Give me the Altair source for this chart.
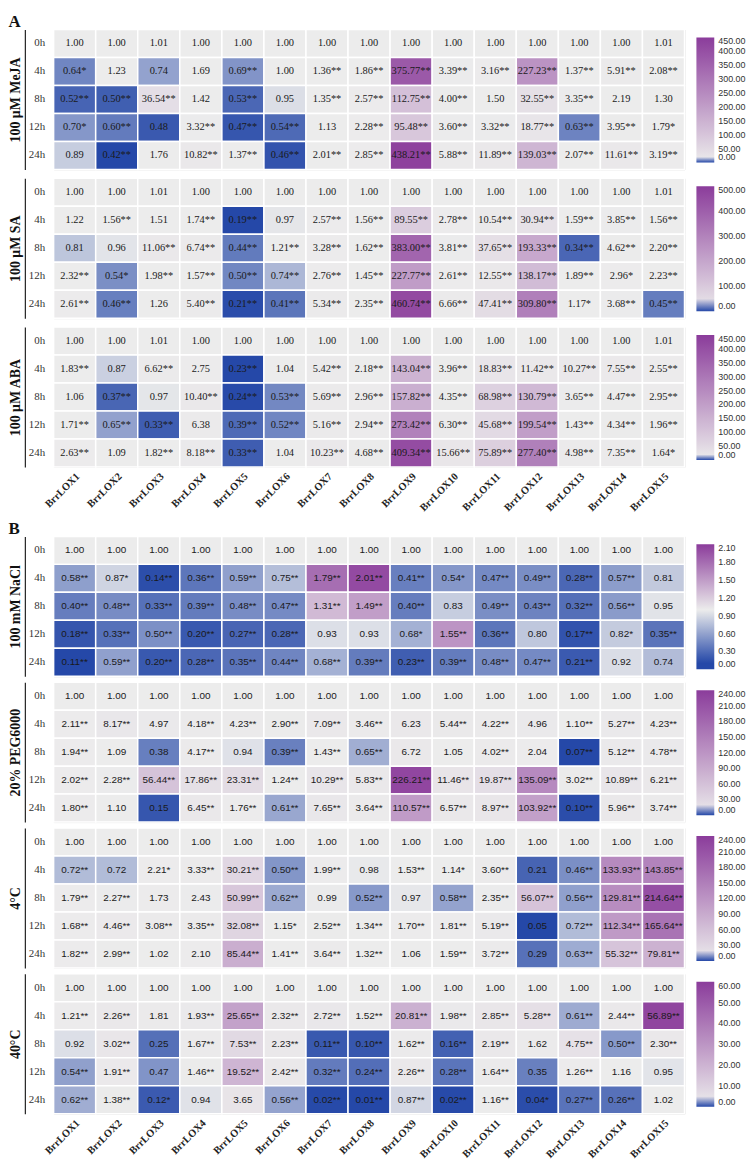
import altair as alt
import pandas as pd

genes = [f"BrrLOX{i}" for i in range(1, 16)]
times = ["0h", "4h", "8h", "12h", "24h"]

meja = [
    "1.00 1.00 1.01 1.00 1.00 1.00 1.00 1.00 1.00 1.00 1.00 1.00 1.00 1.00 1.01",
    "0.64* 1.23 0.74 1.69 0.69** 1.00 1.36** 1.86** 375.77** 3.39** 3.16** 227.23** 1.37** 5.91** 2.08**",
    "0.52** 0.50** 36.54** 1.42 0.53** 0.95 1.35** 2.57** 112.75** 4.00** 1.50 32.55** 3.35** 2.19 1.30",
    "0.70* 0.60** 0.48 3.32** 0.47** 0.54** 1.13 2.28** 95.48** 3.60** 3.32** 18.77** 0.63** 3.95** 1.79*",
    "0.89 0.42** 1.76 10.82** 1.37** 0.46** 2.01** 2.85** 438.21** 5.88** 11.89** 139.03** 2.07** 11.61** 3.19**",
]
sa = [
    "1.00 1.00 1.01 1.00 1.00 1.00 1.00 1.00 1.00 1.00 1.00 1.00 1.00 1.00 1.01",
    "1.22 1.56** 1.51 1.74** 0.19** 0.97 2.57** 1.56** 89.55** 2.78** 10.54** 30.94** 1.59** 3.85** 1.56**",
    "0.81 0.96 11.06** 6.74** 0.44** 1.21** 3.28** 1.62** 383.00** 3.81** 37.65** 193.33** 0.34** 4.62** 2.20**",
    "2.32** 0.54* 1.98** 1.57** 0.50** 0.74** 2.76** 1.45** 227.77** 2.61** 12.55** 138.17** 1.89** 2.96* 2.23**",
    "2.61** 0.46** 1.26 5.40** 0.21** 0.41** 5.34** 2.35** 460.74** 6.66** 47.41** 309.80** 1.17* 3.68** 0.45**",
]
aba = [
    "1.00 1.00 1.01 1.00 1.00 1.00 1.00 1.00 1.00 1.00 1.00 1.00 1.00 1.00 1.01",
    "1.83** 0.87 6.62** 2.75 0.23** 1.04 5.42** 2.18** 143.04** 3.96** 18.83** 11.42** 10.27** 7.55** 2.55**",
    "1.06 0.37** 0.97 10.40** 0.24** 0.53** 5.69** 2.96** 157.82** 4.35** 68.98** 130.79** 3.65** 4.47** 2.95**",
    "1.71** 0.65** 0.33** 6.38 0.39** 0.52** 5.16** 2.94** 273.42** 6.30** 45.68** 199.54** 1.43** 4.34** 1.96**",
    "2.63** 1.09 1.82** 8.18** 0.33** 1.04 10.23** 4.68** 409.34** 15.66** 75.89** 277.40** 4.98** 7.35** 1.64*",
]
nacl = [
    "1.00 1.00 1.00 1.00 1.00 1.00 1.00 1.00 1.00 1.00 1.00 1.00 1.00 1.00 1.00",
    "0.58** 0.87* 0.14** 0.36** 0.59** 0.75** 1.79** 2.01** 0.41** 0.54* 0.47** 0.49** 0.28** 0.57** 0.81",
    "0.40** 0.48** 0.33** 0.39** 0.48** 0.47** 1.31** 1.49** 0.40** 0.83 0.49** 0.43** 0.32** 0.56** 0.95",
    "0.18** 0.33** 0.50** 0.20** 0.27** 0.28** 0.93 0.93 0.68* 1.55** 0.36** 0.80 0.17** 0.82* 0.35**",
    "0.11** 0.59** 0.20** 0.28** 0.35** 0.44** 0.68** 0.39** 0.23** 0.39** 0.48** 0.47** 0.21** 0.92 0.74",
]
peg = [
    "1.00 1.00 1.00 1.00 1.00 1.00 1.00 1.00 1.00 1.00 1.00 1.00 1.00 1.00 1.00",
    "2.11** 8.17** 4.97 4.18** 4.23** 2.90** 7.09** 3.46** 6.23 5.44** 4.22** 4.96 1.10** 5.27** 4.23**",
    "1.94** 1.09 0.38 4.17** 0.94 0.39** 1.43** 0.65** 6.72 1.05 4.02** 2.04 0.07** 5.12** 4.78**",
    "2.02** 2.28** 56.44** 17.86** 23.31** 1.24** 10.29** 5.83** 226.21** 11.46** 19.87** 135.09** 3.02** 10.89** 6.21**",
    "1.80** 1.10 0.15 6.45** 1.76** 0.61** 7.65** 3.64** 110.57** 6.57** 8.97** 103.92** 0.10** 5.96** 3.74**",
]
cold = [
    "1.00 1.00 1.00 1.00 1.00 1.00 1.00 1.00 1.00 1.00 1.00 1.00 1.00 1.00 1.00",
    "0.72** 0.72 2.21* 3.33** 30.21** 0.50** 1.99** 0.98 1.53** 1.14* 3.60** 0.21 0.46** 133.93** 143.85**",
    "1.79** 2.27** 1.73 2.43 50.99** 0.62** 0.99 0.52** 0.97 0.58** 2.35** 56.07** 0.56** 129.81** 214.64**",
    "1.68** 4.46** 3.08** 3.35** 32.08** 1.15* 2.52** 1.34** 1.70** 1.81** 5.19** 0.05 0.72** 112.34** 165.64**",
    "1.82** 2.99** 1.02 2.10 85.44** 1.41** 3.64** 1.32** 1.06 1.59** 3.72** 0.29 0.63** 55.32** 79.81**",
]
heat = [
    "1.00 1.00 1.00 1.00 1.00 1.00 1.00 1.00 1.00 1.00 1.00 1.00 1.00 1.00 1.00",
    "1.21** 2.26** 1.81 1.93** 25.65** 2.32** 2.72** 1.52** 20.81** 1.98** 2.85** 5.28** 0.61** 2.44** 56.89**",
    "0.92 3.02** 0.25 1.67** 7.53** 2.23** 0.11** 0.10** 1.62** 0.16** 2.19** 1.62 4.75** 0.50** 2.30**",
    "0.54** 1.91** 0.47 1.46** 19.52** 2.42** 0.32** 0.24** 2.26** 0.28** 1.64** 0.35 1.26** 1.16 0.95",
    "0.62** 1.38** 0.12* 0.94 3.65 0.56** 0.02** 0.01** 0.87** 0.02** 1.16** 0.04* 0.27** 0.26** 1.02",
]

ticks_meja = [0, 50, 100, 150, 200, 250, 300, 350, 400, 450]
ticks_sa = [0, 100, 200, 300, 400, 500]
ticks_aba = [0, 50, 100, 150, 200, 250, 300, 350, 400, 450]
ticks_nacl = [0, 0.3, 0.6, 0.9, 1.2, 1.5, 1.8, 2.1]
ticks_peg = [0, 30, 60, 90, 120, 150, 180, 210, 240]
ticks_cold = [0, 30, 60, 90, 120, 150, 180, 210, 240]
ticks_heat = [0, 10, 20, 30, 40, 50, 60]

BLUE = "#2548a8"
GREY = "#ececec"
PURPLE = "#8b3c9b"
SERIF = "Liberation Serif"
SANS = "Liberation Sans"

W, H = 636, 141


def panel(title, rows, ticks, cell_font, cell_size, show_x):
    recs = []
    for t, row in zip(times, rows):
        for g, s in zip(genes, row.split()):
            recs.append({"gene": g, "time": t, "value": float(s.rstrip("*")), "label": s})
    df = pd.DataFrame(recs)
    vmin = float(df["value"].min())
    vmax = ticks[-1]
    scale = alt.Scale(domain=[0, vmin, 1, vmax], range=[BLUE, BLUE, GREY, PURPLE],
                      interpolate="rgb", clamp=True)
    if show_x:
        xaxis = alt.Axis(title=None, labelAngle=-45, labelFont=SERIF, labelFontWeight="bold",
                         labelFontSize=10.5, labelColor="#222", ticks=False, tickSize=0,
                         domain=False, labelPadding=4)
    else:
        xaxis = None
    x = alt.X("gene:N", sort=genes, axis=xaxis, scale=alt.Scale(paddingInner=0, paddingOuter=0))
    y = alt.Y("time:N", sort=times, scale=alt.Scale(paddingInner=0, paddingOuter=0),
              axis=alt.Axis(title=title, titleFont=SERIF, titleFontSize=14, titleFontWeight="bold",
                            titleColor="#111", titlePadding=2, labelFont=SERIF, labelFontSize=11,
                            labelColor="#333", labelAlign="right", labelPadding=-20,
                            ticks=False, tickSize=0, domain=True, domainColor="#222",
                            domainWidth=1.2, offset=29))
    base = alt.Chart(df).encode(x=x, y=y)
    rect = base.mark_rect(stroke="white", strokeWidth=1.5).encode(
        color=alt.Color("value:Q", scale=scale,
                        legend=alt.Legend(title=None, orient="none", legendX=W + 12, legendY=8,
                                          direction="vertical", gradientLength=126,
                                          gradientThickness=18, values=ticks, format=".2f",
                                          labelFont=SANS, labelFontSize=9, labelColor="#333",
                                          labelOffset=4, labelBaseline="middle", padding=0,
                                          gradientStrokeWidth=0)))
    text = base.mark_text(font=cell_font, fontSize=cell_size, color="#1a1a1a").encode(text="label:N")
    return (rect + text).properties(width=W, height=H)


title_style = dict(anchor="start", font=SERIF, fontSize=17, fontWeight="bold", color="#111",
                   offset=-3, frame="bounds")

group_a = alt.vconcat(
    panel("100 μM MeJA", meja, ticks_meja, SERIF, 10.5, False),
    panel("100 μM SA", sa, ticks_sa, SERIF, 10.5, False),
    panel("100 μM ABA", aba, ticks_aba, SERIF, 10.5, True),
    spacing=5,
    title=alt.TitleParams("A", **title_style),
).resolve_scale(color="independent")

group_b = alt.vconcat(
    panel("100 mM NaCl", nacl, ticks_nacl, SANS, 10, False),
    panel("20% PEG6000", peg, ticks_peg, SANS, 10, False),
    panel("4°C", cold, ticks_cold, SANS, 10, False),
    panel("40°C", heat, ticks_heat, SANS, 10, True),
    spacing=2,
    title=alt.TitleParams("B", **title_style),
).resolve_scale(color="independent")

chart = alt.vconcat(group_a, group_b, spacing=6).resolve_scale(color="independent").properties(
    padding={"left": 0, "top": 0, "right": 0, "bottom": 0}
).configure_view(strokeWidth=0).configure(background="white")

chart.save("out.html", embed_options={"renderer": "svg", "actions": False})
